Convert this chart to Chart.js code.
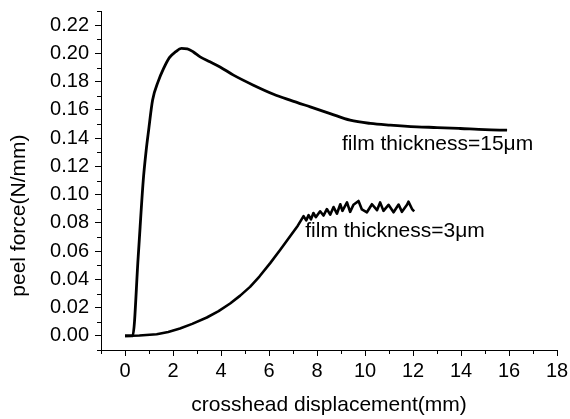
<!DOCTYPE html>
<html><head><meta charset="utf-8">
<script src="https://cdn.jsdelivr.net/npm/chart.js@4/dist/chart.umd.min.js"></script>
<style>html,body{margin:0;padding:0;background:#fff}#wrap{width:570px;height:419px}</style>
</head><body><div id="wrap"><canvas id="c" width="570" height="419"></canvas></div>
<script>
// ---- data ----
const xTicks = [0, 2, 4, 6, 8, 10, 12, 14, 16, 18];
const yTicks = [0, 0.02, 0.04, 0.06, 0.08, 0.10, 0.12, 0.14, 0.16, 0.18, 0.20, 0.22];
const xMinorTicks = [-1, 1, 3, 5, 7, 9, 11, 13, 15, 17];
const yMinorTicks = [-0.01, 0.01, 0.03, 0.05, 0.07, 0.09, 0.11, 0.13, 0.15, 0.17, 0.19, 0.21, 0.23];

const film15X = [0, 0.32, 0.55, 0.76, 0.88, 0.98, 1.15, 1.38, 1.6, 1.85, 2.1, 2.35, 2.6, 2.85, 3.13, 3.54, 3.96, 4.52, 5.35, 6.19, 6.88, 7.72, 8.55, 9.38, 10.22, 11.05, 12.16, 13.0, 13.97, 15.0, 15.92];
const film15Y = [0, 0, 0.056, 0.11, 0.131, 0.145, 0.167, 0.18, 0.189, 0.197, 0.201, 0.2035, 0.2032, 0.201, 0.1975, 0.194, 0.1904, 0.1846, 0.1775, 0.1711, 0.1669, 0.1621, 0.1574, 0.1527, 0.1504, 0.1492, 0.148, 0.1475, 0.1468, 0.146, 0.1456];

const film3X = [0, 0.6, 1.32, 1.8, 2.29, 2.8, 3.41, 3.9, 4.38, 4.8, 5.21, 5.6, 6.05, 6.47, 6.88, 7.2, 7.44, 7.55, 7.65, 7.75, 7.85, 7.95, 8.13, 8.27, 8.41, 8.55, 8.69, 8.83, 8.97, 9.06, 9.25, 9.38, 9.52, 9.73, 9.87, 10.08, 10.29, 10.5, 10.63, 10.77, 10.98, 11.19, 11.4, 11.54, 11.75, 11.81, 11.96, 12.05];
const film3Y = [0, 0.0003, 0.0012, 0.0028, 0.0052, 0.0085, 0.013, 0.0175, 0.0229, 0.0285, 0.0347, 0.042, 0.0515, 0.061, 0.0705, 0.078, 0.0848, 0.0818, 0.0855, 0.0825, 0.087, 0.0840, 0.0882, 0.0852, 0.0898, 0.0858, 0.0912, 0.0865, 0.0932, 0.0885, 0.0945, 0.0878, 0.0928, 0.0955, 0.0895, 0.0875, 0.0932, 0.0890, 0.0945, 0.0885, 0.0928, 0.0875, 0.0930, 0.0878, 0.0928, 0.0950, 0.0898, 0.0882];

const seriesLabels = ['film thickness=15\u03bcm', 'film thickness=3\u03bcm'];
const xTitle = 'crosshead displacement(mm)';
const yTitle = 'peel force(N/mm)';

// ---- chart ----
const FONT = "'Liberation Sans', Arial, sans-serif";
const toPts = (xs, ys) => xs.map((x, i) => ({x: x, y: ys[i]}));

const extras = {
  id: 'extras',
  afterDraw(chart) {
    const ctx = chart.ctx, xs = chart.scales.x, ys = chart.scales.y, a = chart.chartArea;
    ctx.save();
    ctx.strokeStyle = '#000';
    ctx.lineWidth = 1;
    ctx.beginPath();
    xMinorTicks.forEach(v => {
      const px = Math.round(xs.getPixelForValue(v)) + 0.5;
      ctx.moveTo(px, a.bottom); ctx.lineTo(px, a.bottom + 4);
    });
    yMinorTicks.forEach(v => {
      const py = Math.round(ys.getPixelForValue(v)) + 0.5;
      ctx.moveTo(a.left, py); ctx.lineTo(a.left - 4, py);
    });
    ctx.stroke();
    ctx.fillStyle = '#000';
    ctx.font = "21px " + FONT;
    ctx.textAlign = 'left';
    ctx.textBaseline = 'alphabetic';
    ctx.fillText(seriesLabels[0], xs.getPixelForValue(9.04), ys.getPixelForValue(0.1318));
    ctx.fillText(seriesLabels[1], xs.getPixelForValue(7.51), ys.getPixelForValue(0.0702));
    ctx.translate(19.4, 215.6);
    ctx.rotate(-Math.PI / 2);
    ctx.textAlign = 'center';
    ctx.textBaseline = 'middle';
    ctx.fillText(yTitle, 0, 0);
    ctx.restore();
  }
};

new Chart(document.getElementById('c'), {
  type: 'scatter',
  data: {
    datasets: [
      {label: seriesLabels[0], data: toPts(film15X, film15Y), showLine: true, borderColor: '#000', borderWidth: 2.8, pointRadius: 0, cubicInterpolationMode: 'monotone'},
      {label: seriesLabels[1], data: toPts(film3X, film3Y), showLine: true, borderColor: '#000', borderWidth: 2.6, pointRadius: 0, tension: 0, borderJoinStyle: 'round'}
    ]
  },
  options: {
    responsive: false,
    animation: false,
    devicePixelRatio: 1,
    layout: {padding: {left: 0, right: 13, top: 11, bottom: 0}},
    plugins: {legend: {display: false}, tooltip: {enabled: false}},
    scales: {
      x: {
        type: 'linear', min: -1, max: 18,
        afterBuildTicks: s => { s.ticks = xTicks.map(v => ({value: v})); },
        afterFit: s => { s.height = 69; s.paddingLeft = 0; s.paddingRight = 0; },
        ticks: {autoSkip: false, maxRotation: 0, padding: 3, color: '#000', font: {family: FONT, size: 20},
          callback: v => String(Math.round(v))},
        grid: {drawOnChartArea: false, drawTicks: true, tickLength: 6, color: '#000', lineWidth: 1},
        border: {display: true, color: '#000', width: 1},
        title: {display: true, text: xTitle, color: '#000', font: {family: FONT, size: 21}, padding: {top: 0, bottom: 1}}
      },
      y: {
        type: 'linear', min: -0.01, max: 0.23,
        afterBuildTicks: s => { s.ticks = yTicks.map(v => ({value: v})); },
        afterFit: s => { s.width = 101; s.paddingTop = 0; s.paddingBottom = 0; },
        ticks: {autoSkip: false, padding: 6, color: '#000', font: {family: FONT, size: 20},
          callback: v => (Math.round(v * 100) / 100).toFixed(2)},
        grid: {drawOnChartArea: false, drawTicks: true, tickLength: 6, color: '#000', lineWidth: 1},
        border: {display: true, color: '#000', width: 1}
      }
    }
  },
  plugins: [extras]
});
</script>
</body></html>
